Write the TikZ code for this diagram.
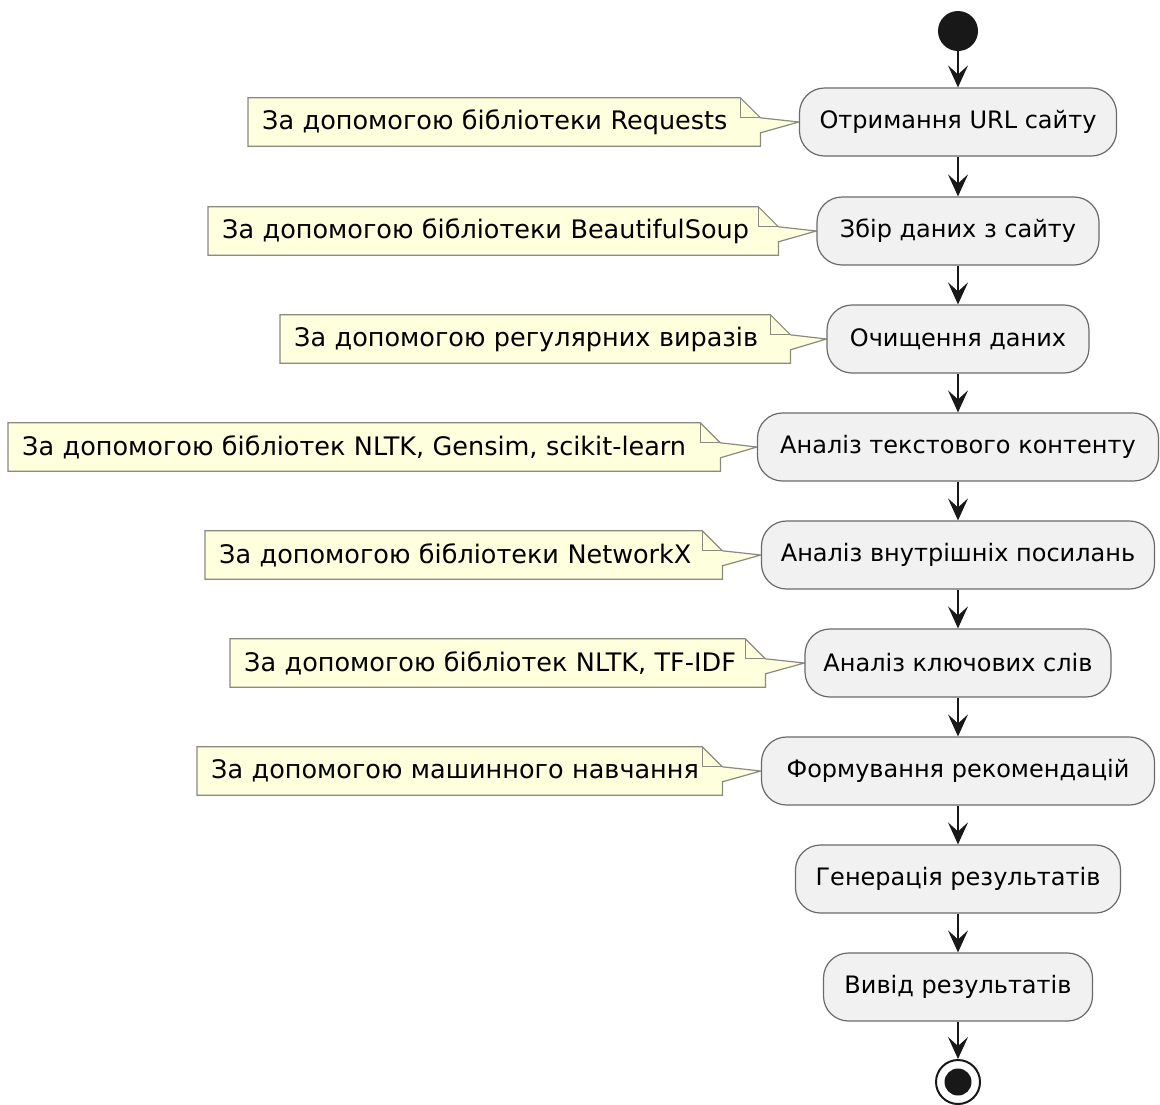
\documentclass[tikz,border=0pt]{standalone}
\usepackage{fontspec}
\setmainfont{DejaVu Sans}
\usetikzlibrary{arrows.meta,calc,backgrounds}

\definecolor{actfill}{HTML}{F1F1F1}
\definecolor{actline}{HTML}{6A6A6A}
\definecolor{notefill}{HTML}{FEFFDD}
\definecolor{noteline}{HTML}{8A8A80}
\definecolor{flowline}{HTML}{181818}

\tikzset{
  action/.style={draw=actline, fill=actfill, line width=1.2pt, rounded corners=25pt,
    minimum height=68pt, inner sep=0pt, font=\fontsize{24}{28}\selectfont, text=black},
  notebox/.style={anchor=west, minimum height=48pt, inner xsep=14pt, inner ysep=0pt,
    align=left, font=\fontsize{25.5}{30}\selectfont, text=black},
  flow/.style={draw=flowline, line width=1.5pt,
    -{Stealth[length=22pt, width=20pt, inset=9pt]}},
  noteshape/.style={draw=noteline, fill=notefill, line width=1.2pt, line join=miter},
}

% callout outline of a note: folded corner and pointer towards the action
\newcommand{\notecallout}[2]{%
  \path[noteshape]
    (#1.north west) -- ($(#1.north east)+(-20,0)$) -- ($(#1.north east)+(0,20)$)
    -- (#2.west) -- ($(#1.north east)+(0,35)$) -- (#1.south east)
    -- (#1.south west) -- cycle;
  \draw[draw=noteline, line width=1.2pt]
    ($(#1.north east)+(-20,0)$) -- ($(#1.north east)+(-20,20)$) -- ($(#1.north east)+(0,20)$);
}

\begin{document}
\begin{tikzpicture}[x=1pt, y=-1pt]
  \useasboundingbox (0,0) rectangle (1160,1104);

  % start and end markers
  \node[circle, fill=flowline, minimum size=40pt, inner sep=0pt] (start) at (958,31) {};
  \node[circle, draw=flowline, fill=white, line width=2pt, minimum size=44pt, inner sep=0pt] (stop) at (958,1082) {};
  \node[circle, fill=flowline, minimum size=27pt, inner sep=0pt] (stopdot) at (958,1082) {};

  % activities
  \node[action, minimum width=317pt] (a1) at (958,122) {Отримання URL сайту};
  \node[action, minimum width=282pt] (a2) at (958,231) {Збір даних з сайту};
  \node[action, minimum width=262pt] (a3) at (958,339) {Очищення даних};
  \node[action, minimum width=401pt] (a4) at (958,447) {Аналіз текстового контенту};
  \node[action, minimum width=393pt] (a5) at (958,555) {Аналіз внутрішніх посилань};
  \node[action, minimum width=306pt] (a6) at (958,663) {Аналіз ключових слів};
  \node[action, minimum width=393pt] (a7) at (958,771) {Формування рекомендацій};
  \node[action, minimum width=325pt] (a8) at (958,879) {Генерація результатів};
  \node[action, minimum width=269pt] (a9) at (958,987) {Вивід результатів};

  % notes
  \node[notebox, text width=484pt] (n1) at (248,122) {За допомогою бібліотеки Requests};
  \node[notebox, text width=542pt] (n2) at (208,231) {За допомогою бібліотеки BeautifulSoup};
  \node[notebox, text width=482pt] (n3) at (280,339) {За допомогою регулярних виразів};
  \node[notebox, text width=684pt] (n4) at (8,447) {За допомогою бібліотек NLTK, Gensim, scikit-learn};
  \node[notebox, text width=489pt] (n5) at (205,555) {За допомогою бібліотеки NetworkX};
  \node[notebox, text width=507pt] (n6) at (230,663) {За допомогою бібліотек NLTK, TF-IDF};
  \node[notebox, text width=497pt] (n7) at (197,771) {За допомогою машинного навчання};

  \begin{scope}[on background layer]
    \notecallout{n1}{a1}
    \notecallout{n2}{a2}
    \notecallout{n3}{a3}
    \notecallout{n4}{a4}
    \notecallout{n5}{a5}
    \notecallout{n6}{a6}
    \notecallout{n7}{a7}
  \end{scope}

  % control flow
  \draw[flow] (start) -- (a1);
  \draw[flow] (a1) -- (a2);
  \draw[flow] (a2) -- (a3);
  \draw[flow] (a3) -- (a4);
  \draw[flow] (a4) -- (a5);
  \draw[flow] (a5) -- (a6);
  \draw[flow] (a6) -- (a7);
  \draw[flow] (a7) -- (a8);
  \draw[flow] (a8) -- (a9);
  \draw[flow] (a9) -- (stop);
\end{tikzpicture}
\end{document}
